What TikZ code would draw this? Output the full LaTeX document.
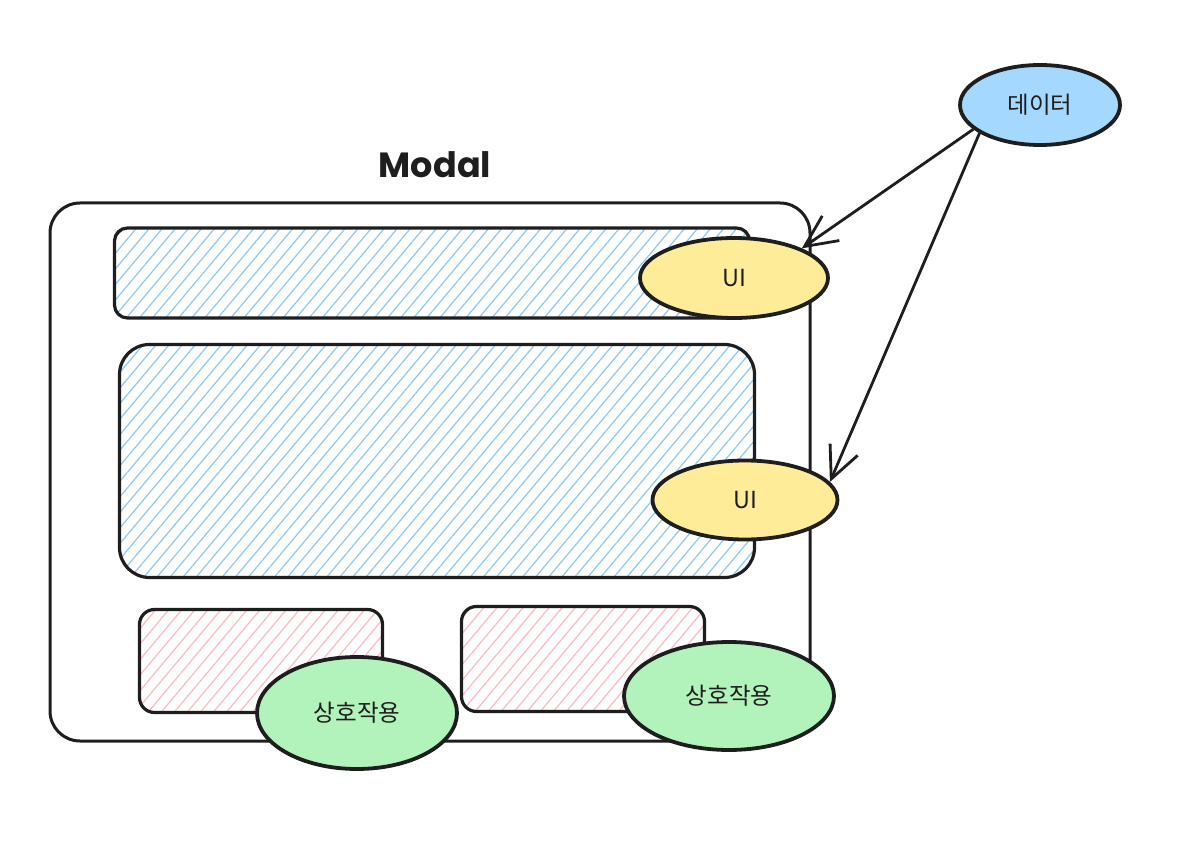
\documentclass[tikz,border=0pt]{standalone}
\usepackage{fontspec}
\setmainfont{Noto Sans CJK KR}
\newfontfamily\titlefont{Poppins}[BoldFont={Poppins Bold}]
\usetikzlibrary{shapes.geometric,patterns.meta,arrows.meta}
\definecolor{ink}{HTML}{1E1E1E}
\definecolor{hblue}{HTML}{8CC8F5}
\definecolor{hpink}{HTML}{FFB8BE}
\definecolor{fblue}{HTML}{A5D8FF}
\definecolor{fyellow}{HTML}{FFEC99}
\definecolor{fgreen}{HTML}{B2F2BB}
\begin{document}
\begin{tikzpicture}[x=1pt,y=-1pt,
  frame/.style={draw=ink,line width=3pt,rectangle,rounded corners=30pt,inner sep=0pt},
  hatchb/.style={draw=ink,line width=3.2pt,rectangle,inner sep=0pt,
    pattern={Lines[angle=50,distance=10pt,line width=1.2pt]},pattern color=hblue},
  hatchp/.style={draw=ink,line width=3.2pt,rectangle,inner sep=0pt,rounded corners=15pt,
    pattern={Lines[angle=50,distance=10pt,line width=1.2pt]},pattern color=hpink},
  blob/.style={draw=ink,line width=3.8pt,ellipse,inner sep=0pt,font=\fontsize{23.5}{28}\selectfont,text=ink},
  arr/.style={draw=ink,line width=2.8pt,-{Straight Barb[length=32pt,width=30pt,line width=2.8pt]}}]
\useasboundingbox (0,0) rectangle (1184,842);
\node[frame,minimum width=760pt,minimum height=538pt] (modal) at (430,472) {};
\node[font=\titlefont\bfseries\fontsize{35}{40}\selectfont,text=ink] (title) at (435,165) {Modal};
\node[hatchb,rounded corners=13pt,minimum width=635pt,minimum height=90pt] (top) at (432,273) {};
\node[hatchb,rounded corners=30pt,minimum width=635pt,minimum height=233pt] (main) at (437,461) {};
\node[hatchp,minimum width=243pt,minimum height=103pt] (p1) at (261,661) {};
\node[hatchp,minimum width=243pt,minimum height=105pt] (p2) at (583,659) {};
\node[blob,fill=fyellow,minimum width=188pt,minimum height=80pt] (ui1) at (734,278) {UI};
\node[blob,fill=fyellow,minimum width=185pt,minimum height=79pt] (ui2) at (745,500) {UI};
\node[blob,fill=fgreen,minimum width=200pt,minimum height=112pt] (int1) at (357,713) {상호작용};
\node[blob,fill=fgreen,minimum width=210pt,minimum height=108pt] (int2) at (729,696) {상호작용};
\node[blob,fill=fblue,minimum width=160pt,minimum height=80pt] (data) at (1040,105) {데이터};
\draw[arr] (data.200) -- (ui1.north east);
\draw[arr] (data.205) -- (ui2.12);
\end{tikzpicture}
\end{document}
